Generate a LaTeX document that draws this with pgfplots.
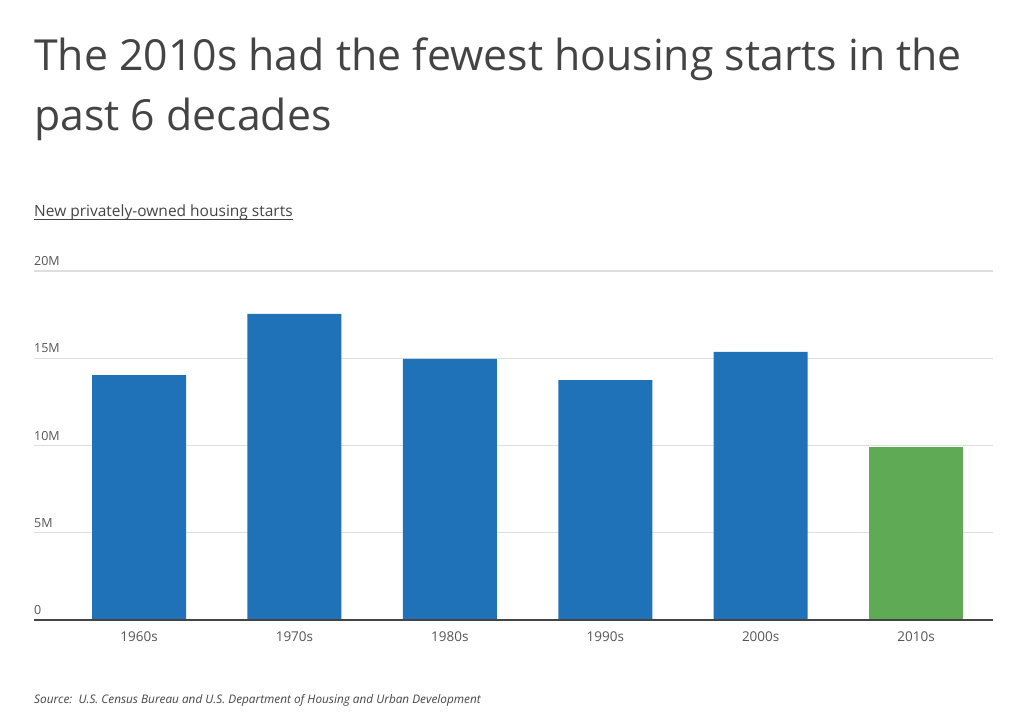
\documentclass[border=0pt]{standalone}
\usepackage{pgfplots}
\pgfplotsset{compat=1.18}
\usepackage{fontspec}
\setmainfont{Open Sans}
\definecolor{barblue}{RGB}{31,114,184}
\definecolor{bargreen}{RGB}{95,171,85}
\definecolor{txt}{RGB}{68,68,68}
\definecolor{ticktxt}{RGB}{85,85,85}
\definecolor{gridc}{RGB}{222,222,222}
\begin{document}
\begin{tikzpicture}[x=1pt,y=1pt]
\path[use as bounding box] (0,0) rectangle (1024,715);
\node[anchor=base west, inner sep=0, text=txt, font=\fontsize{42.8}{50}\selectfont] at (34,644) {The 2010s had the fewest housing starts in the};
\node[anchor=base west, inner sep=0, text=txt, font=\fontsize{42.8}{50}\selectfont] at (34,584) {past 6 decades};
\node[anchor=base west, inner sep=0, text=txt, font=\fontsize{15.5}{18}\selectfont] (sub) at (34,498) {New privately-owned housing starts};
\draw[txt, line width=0.9pt] ([yshift=-2pt]sub.base west) -- ([yshift=-2pt]sub.base east);
\node[anchor=base west, inner sep=0, text=txt, font=\fontsize{11.8}{14}\selectfont\itshape] at (34,12) {Source:\ \ U.S. Census Bureau and U.S. Department of Housing and Urban Development};
\begin{axis}[
  at={(34pt,95pt)}, anchor=south west,
  scale only axis, width=959pt, height=349pt,
  xmin=-0.676, xmax=5.495, ymin=0, ymax=20,
  axis line style={draw=none},
  tick style={draw=none},
  major tick length=0pt,
  ytick={0,5,10,15,20},
  yticklabels={0,5M,10M,15M,20M},
  xtick={0,1,2,3,4,5},
  xticklabels={1960s,1970s,1980s,1990s,2000s,2010s},
  ymajorgrids, grid style={gridc, line width=1.2pt},
  /pgf/number format/assume math mode=true,
  yticklabel style={anchor=south west, inner sep=0pt, yshift=5pt, text=ticktxt, font=\fontsize{12.5}{14}\selectfont},
  xticklabel style={anchor=north, inner sep=0pt, yshift=-12pt, text=ticktxt, font=\fontsize{13.5}{16}\selectfont},
  clip=false,
]
\addplot[ybar, bar width=94pt, fill=barblue, draw=none] coordinates {(0,14.04) (1,17.54) (2,14.96) (3,13.75) (4,15.36)};
\addplot[ybar, bar width=94pt, fill=bargreen, draw=none] coordinates {(5,9.91)};
\draw[txt, line width=2.7pt] (axis cs:-0.676,0) -- (axis cs:5.495,0);
\end{axis}
\end{tikzpicture}
\end{document}
